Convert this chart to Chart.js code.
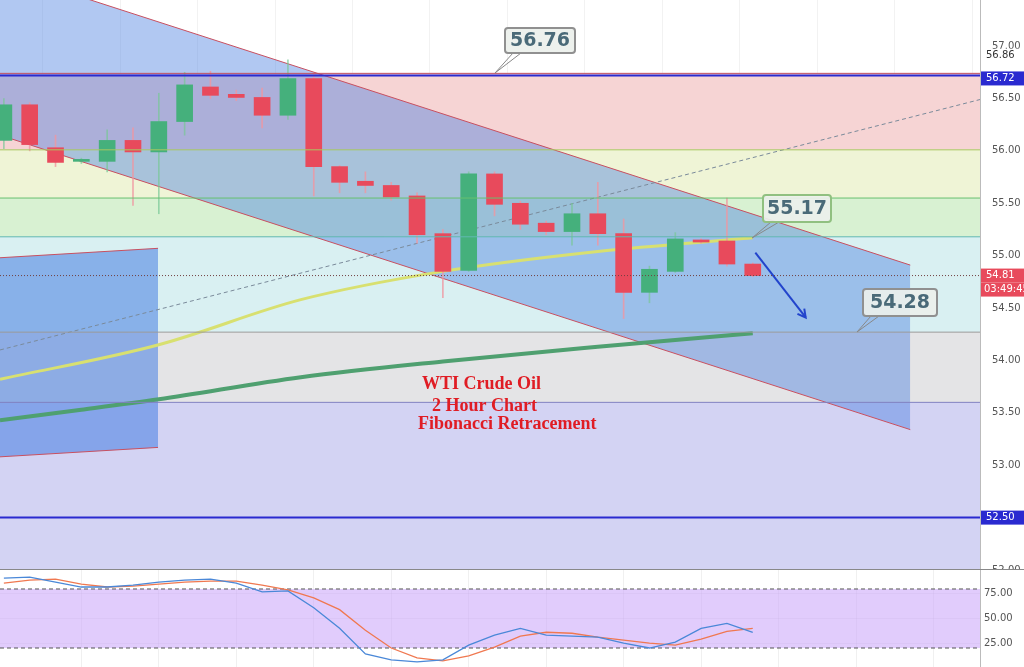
<!DOCTYPE html>
<html>
<head>
<meta charset="UTF-8">
<title>WTI Crude Oil 2H</title>
<script src="https://cdn.jsdelivr.net/npm/chart.js"></script>
<style>
  body { margin:0; background:#fff; }
  .wrap { overflow:hidden; width:1024px; }
  canvas { display:block; margin-top:-10px; }
</style>
</head>
<body>
<div class="wrap" style="height:570px"><canvas id="main" width="1024" height="590"></canvas></div>
<div class="wrap" style="height:97px"><canvas id="osc" width="1024" height="117"></canvas></div>
<script>
// candle data (one per 2h bar)
const opens  = [56.10,56.44,56.03,55.90,55.90,56.10,55.99,56.28,56.61,56.54,56.51,56.34,56.69,55.85,55.71,55.67,55.57,55.21,54.86,55.78,55.50,55.31,55.23,55.40,55.21,54.65,54.85,55.15,55.14,54.92];
const closes = [56.44,56.06,55.89,55.91,56.10,55.99,56.28,56.63,56.53,56.51,56.34,56.69,55.85,55.70,55.67,55.56,55.20,54.85,55.78,55.49,55.30,55.23,55.40,55.21,54.65,54.87,55.16,55.13,54.92,54.81];
const highs  = [56.50,56.46,56.15,55.93,56.20,56.22,56.55,56.75,56.76,56.58,56.60,56.87,56.74,55.86,55.80,55.70,55.60,55.25,55.80,55.80,55.52,55.33,55.50,55.70,55.35,54.90,55.22,55.16,55.55,54.93];
const lows   = [56.02,56.00,55.85,55.88,55.80,55.48,55.40,56.15,56.50,56.48,56.22,56.30,55.57,55.60,55.60,55.53,55.12,54.60,54.85,55.38,55.25,55.20,55.10,55.10,54.40,54.55,54.84,55.12,54.90,54.80];

// moving averages [x index, price]
const maFastX = [-0.15, 6, 11.5, 17, 23, 29];
const maFastY = [53.82, 54.15, 54.58, 54.85, 55.04, 55.17];
const maSlowX = [-0.15, 3, 6, 11.5, 17, 23, 29];
const maSlowY = [53.43, 53.53, 53.63, 53.84, 53.99, 54.13, 54.26];

// channel + drawings
const channelX = [-0.15, 35.1];
const channelUpper = [57.72, 54.91];
const channelLower = [56.15, 53.34];
const boxX = [-0.15, 5.97];
const boxTop = [54.98, 55.07];
const boxBottom = [53.08, 53.17];
const trendX = [-0.15, 37.8];
const trendY = [54.10, 56.49];
const arrowX = [29.1, 31.05];
const arrowY = [55.03, 54.41];

// fibonacci zones (price from, price to, colour)
const fibLevels = [56.74, 56.01, 55.55, 55.18, 54.27, 53.60, 52.0];
const fibColors = ['#f6d4d4', '#eff4d6', '#d8f1d2', '#d9f0f2', '#e4e4e6', '#d3d3f3'];
const fibLines = ['#c05060', '#a8c860', '#68c070', '#60b8b0', '#9a9a9a', '#8080c0'];

// stochastic oscillator
const stochK = [91,92,87,82,82,84,87,89,90,86,77,78,61,40,14,8,6,8,23,33,40,33,32,31,25,20,26,40,45,36];
const stochD = [86,89,90,85,82,83,85,87,88,88,84,79,71,59,38,20,10,7,12,21,32,36,35,31,28,25,23,29,37,40];

const idx = opens.map((_, i) => i);
const green = '#45b07c', red = '#e84a5c';
const candleColors = opens.map((o, i) => closes[i] >= o ? green : red);
const xMin = -0.15, xMax = 37.8;

function toXY(xs, ys) { return xs.map((x, i) => ({x, y: ys[i]})); }

const mainPlugin = {
  id: 'mainDecor',
  beforeDatasetsDraw(chart) {
    const {ctx, chartArea: a, scales: {x, y}} = chart;
    ctx.save();
    for (let i = 0; i < fibColors.length; i++) {
      const y0 = y.getPixelForValue(fibLevels[i]), y1 = y.getPixelForValue(fibLevels[i + 1]);
      ctx.fillStyle = fibColors[i];
      ctx.fillRect(a.left, y0, a.right - a.left, y1 - y0);
    }
    ctx.restore();
  },
  afterDatasetsDraw(chart) {
    const {ctx, chartArea: a, scales: {x, y}} = chart;
    const top = a.top;
    ctx.save();
    for (let i = 0; i < fibLines.length; i++) {
      const yy = y.getPixelForValue(fibLevels[i]);
      ctx.strokeStyle = fibLines[i]; ctx.lineWidth = 1;
      ctx.beginPath(); ctx.moveTo(a.left, yy); ctx.lineTo(a.right, yy); ctx.stroke();
    }
    ctx.strokeStyle = '#2a2ad0'; ctx.lineWidth = 2;
    [56.72, 52.50].forEach(p => {
      const yy = y.getPixelForValue(p);
      ctx.beginPath(); ctx.moveTo(a.left, yy); ctx.lineTo(a.right, yy); ctx.stroke();
    });
    const lp = y.getPixelForValue(54.81);
    ctx.strokeStyle = '#704040'; ctx.lineWidth = 1; ctx.setLineDash([1, 2]);
    ctx.beginPath(); ctx.moveTo(a.left, lp); ctx.lineTo(a.right, lp); ctx.stroke();
    ctx.setLineDash([]);
    // arrow head
    const ax0 = x.getPixelForValue(arrowX[0]), ay0 = y.getPixelForValue(arrowY[0]);
    const ax1 = x.getPixelForValue(arrowX[1]), ay1 = y.getPixelForValue(arrowY[1]);
    const ang = Math.atan2(ay1 - ay0, ax1 - ax0);
    ctx.strokeStyle = '#2244cc'; ctx.lineWidth = 2;
    ctx.beginPath();
    ctx.moveTo(ax1 - 9 * Math.cos(ang - 0.5), ay1 - 9 * Math.sin(ang - 0.5));
    ctx.lineTo(ax1, ay1);
    ctx.lineTo(ax1 - 9 * Math.cos(ang + 0.5), ay1 - 9 * Math.sin(ang + 0.5));
    ctx.stroke();
    // callout boxes (page pixel positions)
    const boxes = [
      {t: '56.76', bx: 505, by: 28, w: 70, h: 25, px: 495, py: 73, border: '#909090'},
      {t: '55.17', bx: 763, by: 195, w: 68, h: 27, px: 752, py: 238, border: '#90c080'},
      {t: '54.28', bx: 863, by: 289, w: 74, h: 27, px: 857, py: 332, border: '#909090'}
    ];
    boxes.forEach(b => {
      ctx.strokeStyle = '#888'; ctx.lineWidth = 1;
      ctx.beginPath(); ctx.moveTo(b.bx + 8, top + b.by + b.h); ctx.lineTo(b.px, top + b.py); ctx.lineTo(b.bx + 16, top + b.by + b.h); ctx.stroke();
      ctx.fillStyle = 'rgba(235,240,235,0.92)';
      ctx.strokeStyle = b.border; ctx.lineWidth = 2;
      ctx.beginPath(); ctx.roundRect(b.bx, top + b.by, b.w, b.h, 3); ctx.fill(); ctx.stroke();
      ctx.fillStyle = '#4a6a78'; ctx.font = 'bold 19px "DejaVu Sans"';
      ctx.textAlign = 'center'; ctx.textBaseline = 'middle';
      ctx.fillText(b.t, b.bx + b.w / 2, top + b.by + b.h / 2 + 1);
    });
    ctx.fillStyle = '#e01c24'; ctx.font = 'bold 18px "Liberation Serif"';
    ctx.textAlign = 'left'; ctx.textBaseline = 'alphabetic';
    ctx.fillText('WTI Crude Oil', 422, top + 389);
    ctx.fillText('2 Hour Chart', 432, top + 411);
    ctx.fillText('Fibonacci Retracement', 418, top + 429);
    ctx.strokeStyle = '#bbb'; ctx.lineWidth = 1;
    ctx.beginPath(); ctx.moveTo(a.right + 0.5, 0); ctx.lineTo(a.right + 0.5, a.bottom); ctx.stroke();
    ctx.strokeStyle = '#888';
    ctx.beginPath(); ctx.moveTo(a.left, a.bottom - 0.5); ctx.lineTo(a.right + 44, a.bottom - 0.5); ctx.stroke();
    const tags = [
      {p: 56.86, bg: '#ffffff', fg: '#333', t: '56.86', dy: -5},
      {p: 56.72, bg: '#2a2ad0', fg: '#fff', t: '56.72', dy: 3},
      {p: 54.81, bg: '#e84a5c', fg: '#fff', t: '54.81', dy: 0},
      {p: 52.50, bg: '#2a2ad0', fg: '#fff', t: '52.50', dy: 0}
    ];
    ctx.font = '10px "DejaVu Sans"'; ctx.textBaseline = 'middle'; ctx.textAlign = 'left';
    tags.forEach(g => {
      const yy = y.getPixelForValue(g.p) + g.dy;
      ctx.fillStyle = g.bg; ctx.fillRect(a.right + 1, yy - 7, 44, 14);
      ctx.fillStyle = g.fg; ctx.fillText(g.t, a.right + 6, yy);
    });
    const cy = y.getPixelForValue(54.81) + 14;
    ctx.fillStyle = '#e84a5c'; ctx.fillRect(a.right + 1, cy - 7, 44, 14);
    ctx.fillStyle = '#fff'; ctx.fillText('03:49:45', a.right + 4, cy);
    ctx.restore();
  }
};

const yAxisFit = scale => { scale.width = 44; };

new Chart(document.getElementById('main'), {
  data: {
    datasets: [
      {type: 'line', data: toXY(channelX, channelUpper), borderColor: '#c85060', borderWidth: 1, pointRadius: 0, fill: false, order: 10},
      {type: 'line', data: toXY(channelX, channelLower), borderColor: '#c85060', borderWidth: 1, pointRadius: 0, fill: '-1', backgroundColor: 'rgba(70,125,225,0.42)', order: 10},
      {type: 'line', data: toXY(boxX, boxTop), borderColor: '#c85060', borderWidth: 1, pointRadius: 0, fill: false, order: 10},
      {type: 'line', data: toXY(boxX, boxBottom), borderColor: '#c85060', borderWidth: 1, pointRadius: 0, fill: '-1', backgroundColor: 'rgba(70,125,225,0.55)', order: 10},
      {type: 'line', data: toXY(trendX, trendY), borderColor: '#7a8a9a', borderWidth: 1, borderDash: [4, 3], pointRadius: 0, order: 5},
      {type: 'line', data: toXY(maFastX, maFastY), borderColor: '#d8e070', borderWidth: 3, pointRadius: 0, tension: 0.4, cubicInterpolationMode: 'monotone', order: 4},
      {type: 'line', data: toXY(maSlowX, maSlowY), borderColor: '#4fa070', borderWidth: 4, pointRadius: 0, tension: 0.4, cubicInterpolationMode: 'monotone', order: 4},
      {type: 'bar', data: idx.map(i => ({x: i, y: [lows[i], highs[i]]})), backgroundColor: candleColors.map(c => c === green ? 'rgba(120,200,150,0.7)' : 'rgba(240,150,160,0.8)'), barThickness: 1, grouped: false, order: 3},
      {type: 'bar', data: idx.map(i => ({x: i, y: [opens[i], closes[i]]})), backgroundColor: candleColors, barThickness: 16, grouped: false, minBarLength: 2, order: 2},
      {type: 'line', data: toXY(arrowX, arrowY), borderColor: '#2244cc', borderWidth: 2, pointRadius: 0, order: 1}
    ]
  },
  options: {
    responsive: false, animation: false,
    layout: {padding: 0},
    plugins: {legend: {display: false}, tooltip: {enabled: false}},
    scales: {
      x: {type: 'linear', min: xMin, max: xMax, offset: false,
          ticks: {display: false},
          afterBuildTicks: s => { s.ticks = []; for (let v = 3; v < xMax; v += 3) s.ticks.push({value: v}); },
          grid: {color: 'rgba(0,0,0,0.05)', drawTicks: false}, border: {display: false}},
      y: {position: 'right', min: 52.0, max: 57.44,
          afterBuildTicks: s => { s.ticks = []; for (let v = 52.0; v <= 57.01; v += 0.5) s.ticks.push({value: +v.toFixed(2)}); },
          afterFit: yAxisFit,
          ticks: {color: '#555', font: {size: 10, family: 'DejaVu Sans'}, padding: 4, callback: v => v.toFixed(2)},
          grid: {display: false}, border: {display: false}}
    }
  },
  plugins: [mainPlugin]
});

const oscPlugin = {
  id: 'oscBand',
  beforeDatasetsDraw(chart) {
    const {ctx, chartArea: a, scales: {y}} = chart;
    const y80 = y.getPixelForValue(80), y20 = y.getPixelForValue(20);
    ctx.save();
    ctx.fillStyle = 'rgba(205,170,250,0.6)';
    ctx.fillRect(a.left, y80, a.right - a.left, y20 - y80);
    ctx.strokeStyle = '#555'; ctx.setLineDash([4, 3]); ctx.lineWidth = 1;
    [y80, y20].forEach(yy => { ctx.beginPath(); ctx.moveTo(a.left, yy); ctx.lineTo(a.right, yy); ctx.stroke(); });
    ctx.setLineDash([]);
    ctx.strokeStyle = '#bbb';
    ctx.beginPath(); ctx.moveTo(a.right + 0.5, 0); ctx.lineTo(a.right + 0.5, a.bottom + 10); ctx.stroke();
    ctx.restore();
  }
};

new Chart(document.getElementById('osc'), {
  type: 'line',
  data: {
    datasets: [
      {data: toXY(idx, stochK), borderColor: '#4a88d8', borderWidth: 1.3, pointRadius: 0},
      {data: toXY(idx, stochD), borderColor: '#f07850', borderWidth: 1.3, pointRadius: 0}
    ]
  },
  options: {
    responsive: false, animation: false,
    layout: {padding: 0},
    plugins: {legend: {display: false}, tooltip: {enabled: false}},
    scales: {
      x: {type: 'linear', min: xMin, max: xMax, ticks: {display: false},
          afterBuildTicks: s => { s.ticks = []; for (let v = 3; v < xMax; v += 3) s.ticks.push({value: v}); },
          grid: {color: 'rgba(0,0,0,0.06)', drawTicks: false}, border: {display: false}},
      y: {position: 'right', min: 0.7, max: 99.3,
          afterBuildTicks: s => { s.ticks = [25, 50, 75].map(v => ({value: v})); },
          afterFit: yAxisFit,
          ticks: {color: '#555', font: {size: 10, family: 'DejaVu Sans'}, padding: 4, callback: v => v.toFixed(2)},
          grid: {color: 'rgba(0,0,0,0.06)', drawTicks: false}, border: {display: false}}
    }
  },
  plugins: [oscPlugin]
});
</script>
</body>
</html>
